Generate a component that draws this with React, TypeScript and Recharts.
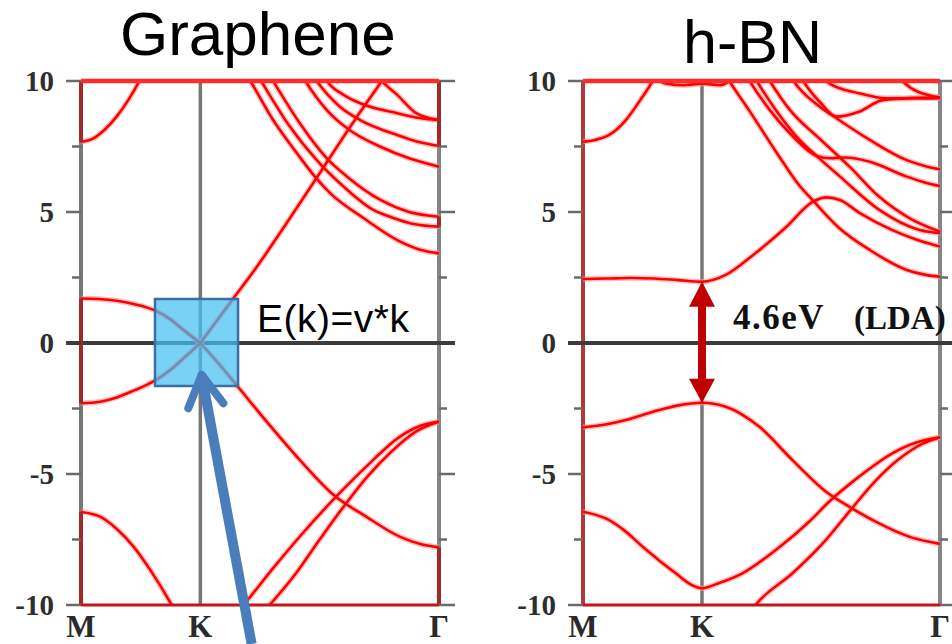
import React from "react";
import {
  LineChart,
  Line,
  XAxis,
  YAxis,
  ReferenceLine,
  ReferenceArea,
  ReferenceDot,
} from "recharts";

type Pt = [number, number];

// path M -> K -> Γ, |MK| : |KΓ| = 1 : 2
const kTicks = [0, 1, 3];
const kLabels = ["M", "K", "Γ"];
const eTicks = [-10, -7.5, -5, -2.5, 0, 2.5, 5, 7.5, 10];

// graphene bands [k, E (eV)]
const grTopM: Pt[] = [[0, 7.68], [0.1, 7.8], [0.2, 8.15], [0.3, 8.65], [0.4, 9.3], [0.5, 10.1], [0.56, 10.7]];
const grPiStarMK: Pt[] = [[0, 1.7], [0.15, 1.68], [0.3, 1.61], [0.45, 1.48], [0.55, 1.36], [0.65, 1.18], [0.75, 0.9], [0.85, 0.53], [1, 0]];
const grPiMK: Pt[] = [[0, -2.3], [0.16, -2.24], [0.3, -2.08], [0.45, -1.8], [0.55, -1.6], [0.65, -1.35], [0.75, -1.02], [0.85, -0.62], [1, 0]];
const grPiStarKG: Pt[] = [[1, 0], [1.276, 1.7], [1.472, 2.9], [1.7, 4.42], [1.96, 6.2], [2.06, 6.9], [2.3, 8.55], [2.52, 10], [2.6, 10.55]];
const grPiKG: Pt[] = [[1, 0], [1.16, -0.82], [1.32, -1.7], [1.556, -3.0], [1.835, -4.47], [2.11, -5.77], [2.39, -6.63], [2.67, -7.39], [2.85, -7.68], [3, -7.8]];
const grS1: Pt[] = [[1.38, 10.3], [1.42, 10], [1.61, 8.51], [1.81, 7.24], [1.96, 6.35], [2.09, 5.71], [2.37, 4.76], [2.65, 3.93], [2.85, 3.55], [3, 3.42]];
const grS2: Pt[] = [[1.47, 10.3], [1.51, 10], [1.75, 8.26], [2.0, 6.86], [2.17, 6.1], [2.45, 5.08], [2.6, 4.8], [2.8, 4.53], [3, 4.44]];
const grS3: Pt[] = [[1.57, 10.3], [1.61, 10], [1.835, 8.38], [2.06, 7.05], [2.23, 6.35], [2.51, 5.46], [2.75, 5.0], [3, 4.82]];
const grU1: Pt[] = [[1.84, 10.3], [1.88, 10], [2.06, 8.89], [2.25, 8.13], [2.51, 7.49], [2.75, 7.05], [3, 6.73]];
const grU2: Pt[] = [[1.93, 10.3], [1.975, 10], [2.17, 9.02], [2.34, 8.51], [2.65, 7.94], [2.85, 7.65], [3, 7.52]];
const grU3: Pt[] = [[2.02, 10.3], [2.06, 10], [2.2, 9.47], [2.34, 9.15], [2.65, 8.77], [2.85, 8.58], [3, 8.51]];
const grV2: Pt[] = [[2.45, 10.4], [2.52, 10], [2.65, 9.47], [2.81, 8.77], [2.92, 8.58], [3, 8.51]];
const grSigM: Pt[] = [[0, -6.45], [0.16, -6.63], [0.3, -7.1], [0.44, -7.77], [0.58, -8.66], [0.76, -10], [0.82, -10.5]];
const grSig1: Pt[] = [[1.3, -10.3], [1.36, -10], [1.6, -8.65], [1.85, -7.3], [2.11, -6.0], [2.39, -4.72], [2.67, -3.58], [2.85, -3.15], [3, -3.0]];
const grSig2: Pt[] = [[1.52, -10.3], [1.58, -10], [1.8, -8.8], [2.0, -7.5], [2.2, -6.25], [2.4, -5.1], [2.6, -4.15], [2.8, -3.4], [3, -3.0]];

const grapheneBands = [grTopM, grPiStarMK, grPiMK, grPiStarKG, grPiKG, grS1, grS2, grS3, grU1, grU2, grU3, grV2, grSigM, grSig1, grSig2];

// h-BN bands
const bnTopM: Pt[] = [[0, 7.68], [0.1, 7.75], [0.22, 7.94], [0.36, 8.51], [0.5, 9.4], [0.585, 10], [0.63, 10.4]];
const bnTopK: Pt[] = [[0.55, 10.3], [0.7, 9.9], [0.85, 9.84], [1.0, 9.9], [1.15, 9.84], [1.3, 10.3]];
const bnC1: Pt[] = [[0, 2.44], [0.2, 2.46], [0.4, 2.48], [0.6, 2.46], [0.8, 2.4], [1.0, 2.34], [1.2, 2.6], [1.43, 3.36], [1.71, 4.44], [1.93, 5.39], [2.05, 5.56], [2.16, 5.46], [2.32, 4.98], [2.6, 4.31], [2.8, 3.95], [3, 3.68]];
const bnL1: Pt[] = [[1.19, 10.3], [1.23, 10], [1.4, 8.85], [1.65, 7.11], [1.82, 6.0], [1.93, 5.45], [2.15, 4.4], [2.41, 3.55], [2.72, 2.79], [2.88, 2.6], [3, 2.53]];
const bnL2: Pt[] = [[1.36, 10.3], [1.4, 10], [1.57, 8.89], [1.75, 7.95], [1.96, 7.15], [2.08, 7.05], [2.2, 7.08], [2.41, 6.92], [2.72, 6.35], [2.88, 6.12], [3, 5.99]];
const bnL3: Pt[] = [[1.42, 10.3], [1.46, 10], [1.62, 8.89], [1.8, 7.85], [1.96, 7.15], [2.16, 6.35], [2.49, 5.08], [2.83, 4.31], [3, 4.19]];
const bnL4: Pt[] = [[1.53, 10.3], [1.57, 10], [1.74, 8.89], [2.0, 7.75], [2.24, 6.73], [2.49, 5.58], [2.75, 4.75], [3, 4.25]];
const bnUa: Pt[] = [[1.73, 10.3], [1.77, 10], [1.99, 9.02], [2.13, 8.58], [2.41, 7.75], [2.72, 6.98], [2.88, 6.75], [3, 6.63]];
const bnUb: Pt[] = [[1.81, 10.3], [1.85, 10], [2.0, 9.15], [2.13, 8.64], [2.32, 8.83], [2.52, 9.27], [2.75, 9.33], [3, 9.34]];
const bnUc: Pt[] = [[2.02, 10.3], [2.07, 9.91], [2.32, 9.53], [2.55, 9.34], [2.8, 9.36], [3, 9.38]];
const bnUd: Pt[] = [[2.64, 10.3], [2.69, 9.97], [2.94, 9.42], [3, 9.38]];
const bnV1: Pt[] = [[0, -3.22], [0.2, -3.1], [0.36, -2.94], [0.5, -2.75], [0.64, -2.56], [0.8, -2.38], [1, -2.28], [1.2, -2.43], [1.48, -3.19], [1.76, -4.47], [2.04, -5.67], [2.26, -6.31], [2.46, -6.82], [2.74, -7.39], [2.9, -7.58], [3, -7.67]];
const bnV2: Pt[] = [[0, -6.44], [0.22, -6.76], [0.36, -7.2], [0.5, -7.77], [0.64, -8.3], [0.78, -8.79], [0.9, -9.2], [1, -9.36], [1.15, -9.15], [1.34, -8.79], [1.62, -7.9], [1.9, -6.82], [2.07, -6.05], [2.32, -5.1], [2.6, -4.21], [2.8, -3.8], [3, -3.6]];
const bnS1: Pt[] = [[1.4, -10.3], [1.45, -10], [1.76, -8.79], [2.04, -7.52], [2.26, -6.31], [2.45, -5.3], [2.65, -4.45], [2.85, -3.85], [3, -3.6]];

const bnBands = [bnTopM, bnTopK, bnC1, bnL1, bnL2, bnL3, bnL4, bnUa, bnUb, bnUc, bnUd, bnV1, bnV2, bnS1];

// red pieces on the M and Γ edges of the graphene frame
const grMRed: Pt[] = [[7.68, 10], [-2.3, 1.7], [-10, -6.45]];
const grGRed: Pt[] = [[7.52, 10], [4.44, 4.82], [-10, -7.8]];

// annotations
const diracBoxK: Pt = [0.62, 1.316];
const diracBoxE: Pt = [-1.64, 1.68];
const blueTail: Pt = [1.43, -11.49];
const blueTip: Pt = [1.011, -1.22];
const blueArmL: Pt = [0.899, -2.49];
const blueArmR: Pt = [1.193, -2.3];
const gapK = 1;
const cbm = 2.34;
const vbm = -2.28;

const toData = (b: Pt[]) => b.map(([k, e]) => ({ k, e }));

const serif = "'Liberation Serif', 'Times New Roman', serif";
const sans = "'Liberation Sans', Arial, sans-serif";

const XTick = (props: any) => {
  const { x, y, payload } = props;
  return (
    <text x={x} y={y} dy="0.71em" textAnchor="middle" fontFamily={serif} fontWeight="bold" fontSize={31} fill="#2a2a2a">
      {kLabels[kTicks.indexOf(payload.value)]}
    </text>
  );
};

const LeftTick = (props: any) => {
  const { x, y, payload } = props;
  const v = payload.value;
  const major = v % 5 === 0;
  const ax = x + 27;
  return (
    <g>
      <line x1={ax - (major ? 15 : 9)} x2={ax} y1={y} y2={y} stroke={v === 0 ? "#3c3c3c" : "#6a6a6a"} strokeWidth={v === 0 ? 4 : 2.5} />
      {major && (
        <text x={x} y={y} dy="0.36em" textAnchor="end" fontFamily={serif} fontWeight="bold" fontSize={29} fill="#2e2e2e">
          {String(v)}
        </text>
      )}
    </g>
  );
};

const RightTick = (props: any) => {
  const { x, y, payload } = props;
  const v = payload.value;
  const major = v % 5 === 0;
  const ax = x - 16;
  return (
    <line x1={ax} x2={ax + (major ? 16 : 8)} y1={y} y2={y} stroke={v === 0 ? "#3c3c3c" : "#6a6a6a"} strokeWidth={v === 0 ? 4 : 2.5} />
  );
};

const arrowUp = (p: any) => (
  <path d={`M${p.cx},${p.cy} L${p.cx - 13},${p.cy + 25} L${p.cx + 13},${p.cy + 25} Z`} fill="#c00000" />
);
const arrowDown = (p: any) => (
  <path d={`M${p.cx},${p.cy} L${p.cx - 13},${p.cy - 24} L${p.cx + 13},${p.cy - 24} Z`} fill="#c00000" />
);

type PanelProps = {
  bands: Pt[][];
  plotLeft: number;
  plotRight: number;
  mLine: string;
  mRed: Pt[];
  gRed: Pt[];
  children?: React.ReactNode;
};

const Panel = ({ bands, plotLeft, plotRight, mLine, mRed, gRed, children }: PanelProps) => (
  <LineChart width={476} height={644} margin={{ top: 81, right: 0, bottom: 0, left: 0 }}>
    <XAxis
      type="number"
      dataKey="k"
      domain={[0, 3]}
      ticks={kTicks}
      interval={0}
      allowDataOverflow
      axisLine={false}
      tickLine={false}
      tickSize={0}
      tickMargin={10}
      height={39}
      tick={XTick}
    />
    <YAxis
      yAxisId="l"
      type="number"
      domain={[-10, 10]}
      ticks={eTicks}
      interval={0}
      allowDataOverflow
      axisLine={false}
      tickLine={false}
      tickSize={15}
      tickMargin={12}
      width={plotLeft}
      tick={LeftTick}
    />
    <YAxis
      yAxisId="r"
      orientation="right"
      type="number"
      domain={[-10, 10]}
      ticks={eTicks}
      interval={0}
      allowDataOverflow
      axisLine={false}
      tickLine={false}
      tickSize={16}
      tickMargin={0}
      width={plotRight}
      tick={RightTick}
    />
    <ReferenceLine yAxisId="l" x={1} stroke="#767676" strokeWidth={3.5} zIndex={100} />
    <ReferenceLine yAxisId="l" x={3} stroke="#858585" strokeWidth={4} zIndex={100} />
    <ReferenceLine yAxisId="l" x={0} stroke={mLine} strokeWidth={4} zIndex={100} />
    <ReferenceLine yAxisId="l" y={0} stroke="#3c3c3c" strokeWidth={4} zIndex={100} />
    {bands.map((b, i) => (
      <Line
        key={"h" + i}
        yAxisId="l"
        data={toData(b)}
        dataKey="e"
        type="monotone"
        stroke="#ff9a9a"
        strokeOpacity={0.6}
        strokeWidth={5.5}
        dot={false}
        activeDot={false}
        isAnimationActive={false}
      />
    ))}
    {bands.map((b, i) => (
      <Line
        key={"c" + i}
        yAxisId="l"
        data={toData(b)}
        dataKey="e"
        type="monotone"
        stroke="#ff0000"
        strokeWidth={2.6}
        dot={false}
        activeDot={false}
        isAnimationActive={false}
      />
    ))}
    {mRed.map(([a, b], i) => (
      <ReferenceLine key={"m" + i} yAxisId="l" segment={[{ x: 0, y: a }, { x: 0, y: b }]} stroke="#a02a2a" strokeWidth={4} ifOverflow="visible" zIndex={450} />
    ))}
    {gRed.map(([a, b], i) => (
      <ReferenceLine key={"g" + i} yAxisId="l" segment={[{ x: 3, y: a }, { x: 3, y: b }]} stroke="#a02a2a" strokeWidth={4} ifOverflow="visible" zIndex={450} />
    ))}
    <ReferenceLine yAxisId="l" y={10} stroke="#ff2a2a" strokeWidth={4.5} zIndex={450} />
    <ReferenceLine yAxisId="l" y={-10} stroke="#c81414" strokeWidth={3} zIndex={450} />
    {children}
  </LineChart>
);

export default function App() {
  return (
    <div style={{ position: "absolute", left: 0, top: 0, width: 952, height: 644, background: "#fff", overflow: "hidden" }}>
      <div style={{ position: "absolute", left: 0, top: 0 }}>
        <Panel bands={grapheneBands} plotLeft={81} plotRight={37} mLine="#777777" mRed={grMRed} gRed={grGRed}>
          <ReferenceArea
            yAxisId="l"
            x1={diracBoxK[0]}
            x2={diracBoxK[1]}
            y1={diracBoxE[0]}
            y2={diracBoxE[1]}
            fill="#46bff2"
            fillOpacity={0.72}
            stroke="#3a6ea5"
            strokeWidth={2.5}
            zIndex={460}
          />
          <ReferenceLine
            yAxisId="l"
            segment={[{ x: blueTail[0], y: blueTail[1] }, { x: blueTip[0], y: blueTip[1] }]}
            stroke="#4a7dbb"
            strokeWidth={10}
            ifOverflow="visible"
            zIndex={470}
          />
          <ReferenceLine
            yAxisId="l"
            segment={[{ x: blueArmL[0], y: blueArmL[1] }, { x: blueTip[0], y: blueTip[1] }]}
            stroke="#4a7dbb"
            strokeWidth={8}
            strokeLinecap="round"
            ifOverflow="visible"
            zIndex={470}
          />
          <ReferenceLine
            yAxisId="l"
            segment={[{ x: blueArmR[0], y: blueArmR[1] }, { x: blueTip[0], y: blueTip[1] }]}
            stroke="#4a7dbb"
            strokeWidth={8}
            strokeLinecap="round"
            ifOverflow="visible"
            zIndex={470}
          />
        </Panel>
      </div>
      <div style={{ position: "absolute", left: 476, top: 0 }}>
        <Panel bands={bnBands} plotLeft={107} plotRight={12} mLine="#b03a3a" mRed={[]} gRed={[]}>
          <ReferenceLine
            yAxisId="l"
            segment={[{ x: gapK, y: cbm - 0.9 }, { x: gapK, y: vbm + 0.85 }]}
            stroke="#c00000"
            strokeWidth={8}
            zIndex={470}
          />
          <ReferenceDot yAxisId="l" x={gapK} y={cbm} r={1} shape={arrowUp} zIndex={470} />
          <ReferenceDot yAxisId="l" x={gapK} y={vbm} r={1} shape={arrowDown} zIndex={470} />
        </Panel>
      </div>
      <svg width={952} height={644} style={{ position: "absolute", left: 0, top: 0, pointerEvents: "none" }}>
        <text x={120} y={55} fontFamily={sans} fontSize={62} fill="#000">Graphene</text>
        <text x={683} y={63} fontFamily={sans} fontSize={61} fill="#000">h-BN</text>
        <text x={257} y={332} fontFamily={sans} fontSize={39} letterSpacing={0.5} fill="#000">E(k)=v*k</text>
        <text x={733} y={329} fontFamily={serif} fontWeight="bold" fontSize={35} letterSpacing={1.5} fill="#111">4.6eV</text>
        <text x={854} y={329} fontFamily={serif} fontWeight="bold" fontSize={33} fill="#111">(LDA)</text>
      </svg>
    </div>
  );
}
